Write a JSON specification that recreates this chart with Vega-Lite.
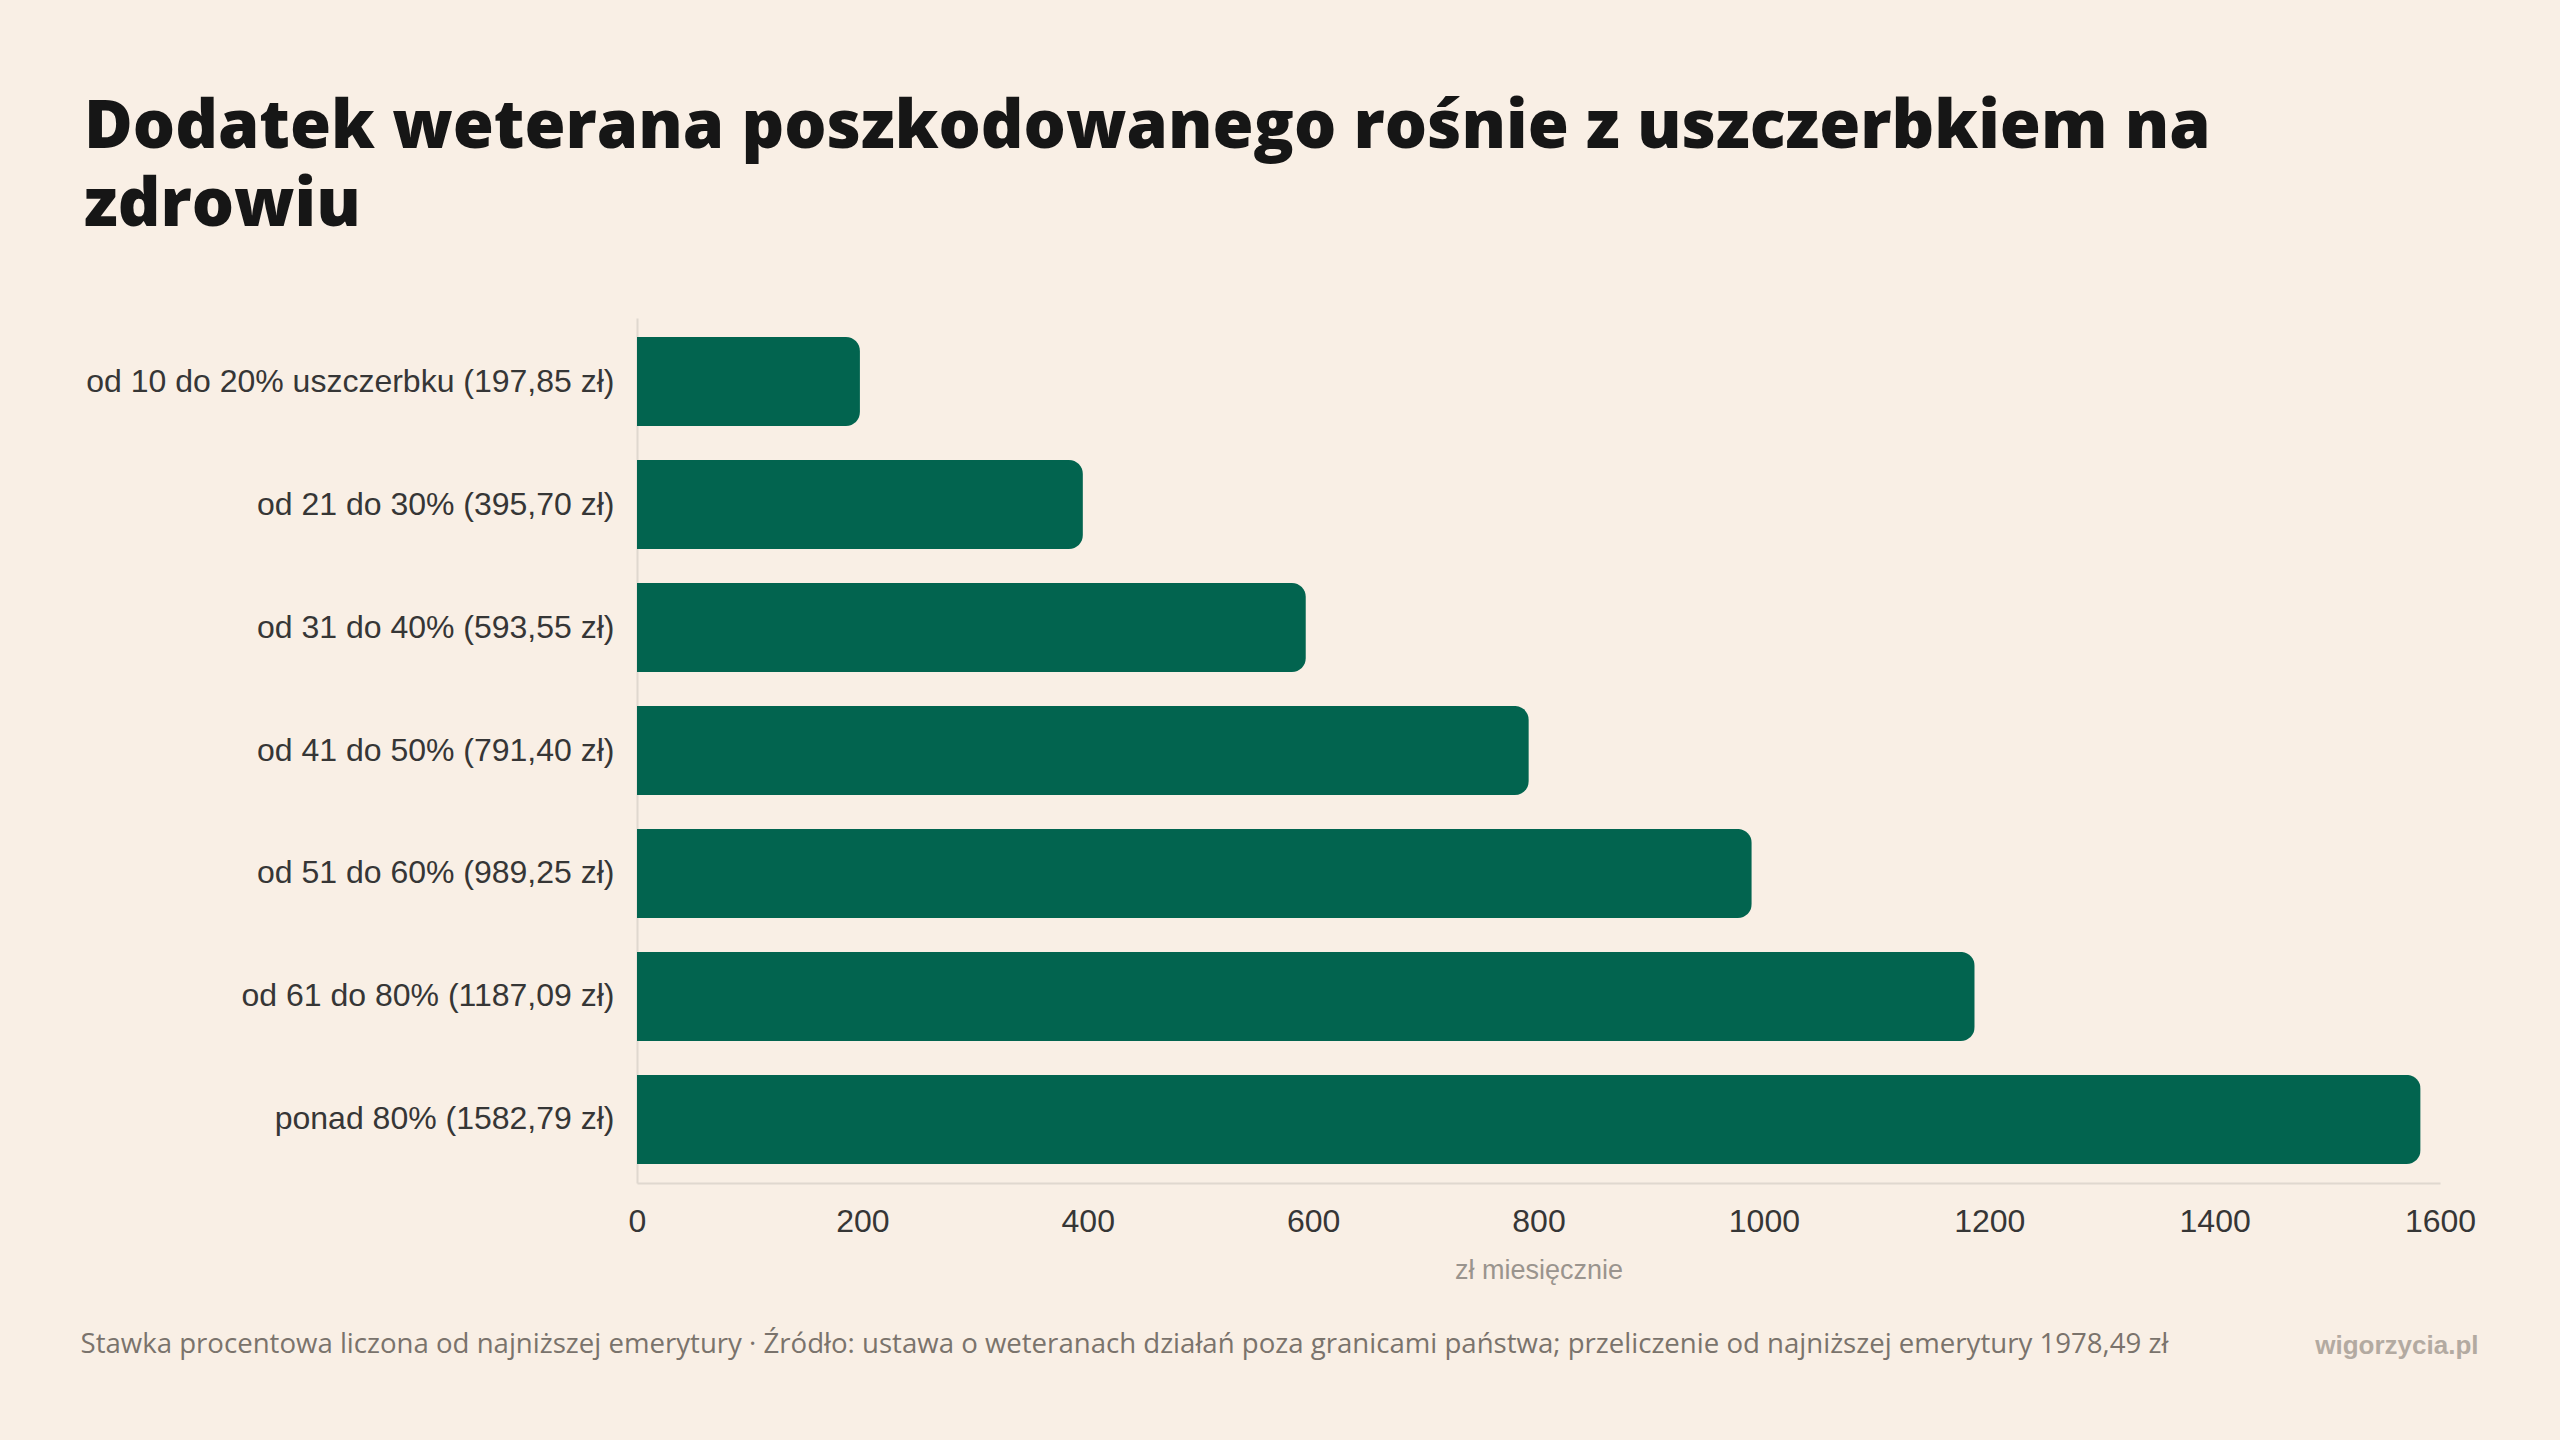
{
  "$schema": "https://vega.github.io/schema/vega-lite/v6.json",
  "width": 1803,
  "height": 865,
  "autosize": {"type": "none"},
  "padding": {"left": 637, "top": 318, "right": 120, "bottom": 257},
  "background": "#f9efe5",
  "title": {
    "text": ["Dodatek weterana poszkodowanego rośnie z uszczerbkiem na", "zdrowiu"],
    "anchor": "start",
    "frame": "group",
    "dx": -553,
    "offset": 26,
    "baseline": "alphabetic",
    "font": "Open Sans",
    "fontWeight": 800,
    "fontSize": 66.5,
    "lineHeight": 77.5,
    "color": "#161616"
  },
  "data": {
    "values": [
      {"label": "od 10 do 20% uszczerbku (197,85 zł)", "kwota": 197.85},
      {"label": "od 21 do 30% (395,70 zł)", "kwota": 395.70},
      {"label": "od 31 do 40% (593,55 zł)", "kwota": 593.55},
      {"label": "od 41 do 50% (791,40 zł)", "kwota": 791.40},
      {"label": "od 51 do 60% (989,25 zł)", "kwota": 989.25},
      {"label": "od 61 do 80% (1187,09 zł)", "kwota": 1187.09},
      {"label": "ponad 80% (1582,79 zł)", "kwota": 1582.79}
    ]
  },
  "layer": [
    {
      "mark": {"type": "bar", "color": "#02644f", "cornerRadiusEnd": 14},
      "encoding": {
        "y": {
          "field": "label",
          "type": "nominal",
          "sort": null,
          "scale": {"paddingInner": 0.276, "paddingOuter": 0.155},
          "axis": {
            "orient": "left",
            "ticks": false,
            "tickSize": 0,
            "labelPadding": 23,
            "labelLimit": 1000,
            "labelFont": "Liberation Sans",
            "labelFontSize": 32,
            "labelColor": "#363636",
            "domainColor": "#e0d8cf",
            "domainWidth": 2,
            "title": "Stawka procentowa liczona od najniższej emerytury · Źródło: ustawa o weteranach działań poza granicami państwa; przeliczenie od najniższej emerytury 1978,49 zł",
            "titleAngle": 0,
            "titleAlign": "left",
            "titleBaseline": "alphabetic",
            "titleX": -557,
            "titleY": 1034,
            "titleFont": "Open Sans",
            "titleFontWeight": "normal",
            "titleFontSize": 27.6,
            "titleColor": "#7a736c",
            "titleLimit": 3000
          }
        },
        "x": {
          "field": "kwota",
          "type": "quantitative",
          "scale": {"domain": [0, 1600], "nice": false},
          "axis": {
            "values": [0, 200, 400, 600, 800, 1000, 1200, 1400, 1600],
            "format": "d",
            "grid": false,
            "ticks": false,
            "tickSize": 0,
            "labelPadding": 23,
            "labelFont": "Liberation Sans",
            "labelFontSize": 32,
            "labelColor": "#363636",
            "labelFlush": false,
            "domainColor": "#e0d8cf",
            "domainWidth": 2,
            "title": "zł miesięcznie",
            "titlePadding": 20,
            "titleFont": "Liberation Sans",
            "titleFontWeight": "normal",
            "titleFontSize": 27,
            "titleColor": "#9a948e"
          }
        }
      }
    },
    {
      "mark": {"type": "point", "opacity": 0},
      "encoding": {
        "y": {
          "field": "label",
          "type": "nominal",
          "sort": null,
          "axis": {
            "orient": "right",
            "labels": false,
            "ticks": false,
            "domain": false,
            "title": "wigorzycia.pl",
            "titleAngle": 0,
            "titleAlign": "right",
            "titleBaseline": "alphabetic",
            "titleX": 38,
            "titleY": 1035,
            "titleFont": "Liberation Sans",
            "titleFontWeight": "bold",
            "titleFontSize": 26,
            "titleColor": "#b3aaa1"
          }
        },
        "x": {"field": "kwota", "type": "quantitative"}
      }
    }
  ],
  "resolve": {"axis": {"y": "independent"}},
  "config": {
    "view": {"stroke": null}
  }
}
